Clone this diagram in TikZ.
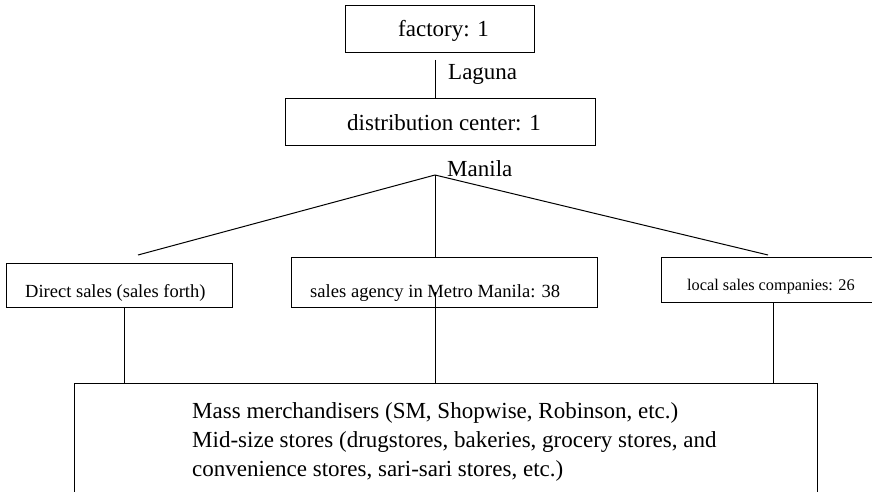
\documentclass[tikz,border=0pt]{standalone}
\usepackage{fontspec}
\setmainfont{Liberation Serif}
\begin{document}
\begin{tikzpicture}[x=1pt,y=-1pt,
  box/.style={draw,line width=1pt,inner sep=0pt,anchor=north west},
  txt/.style={inner sep=0pt,anchor=base west},
  big/.style={txt,font=\fontsize{23}{28}\selectfont},
  link/.style={line width=1pt}]
\clip (0,0) rectangle (872,492);

% boxes
\node[box,minimum width=189pt,minimum height=47pt] (factory) at (345,5) {};
\node[box,minimum width=310pt,minimum height=47pt] (dist) at (285,98) {};
\node[box,minimum width=226pt,minimum height=44pt] (direct) at (6,263) {};
\node[box,minimum width=306pt,minimum height=50pt] (agency) at (291,257) {};
\node[box,minimum width=220pt,minimum height=45pt] (local) at (661,257) {};
\node[box,minimum width=743pt,minimum height=140pt] (mass) at (74,383) {};

% texts
\node[big] (tfactory) at (398,37) {factory: 1};
\node[big] (tlaguna) at (448,80) {Laguna};
\node[big] (tdist) at (347,130) {distribution center: 1};
\node[big] (tmanila) at (447,176) {Manila};
\node[txt,font=\fontsize{18.5}{22}\selectfont] (tdirect) at (25,297) {Direct sales (sales forth)};
\node[txt,font=\fontsize{18.6}{22}\selectfont] (tagency) at (310,297) {sales agency in Metro Manila: 38};
\node[txt,font=\fontsize{16.3}{20}\selectfont] (tlocal) at (687,290) {local sales companies: 26};
\node[big] (tmass1) at (192,418) {Mass merchandisers (SM, Shopwise, Robinson, etc.)};
\node[big] (tmass2) at (192,447) {Mid-size stores (drugstores, bakeries, grocery stores, and};
\node[big] (tmass3) at (192,476) {convenience stores, sari-sari stores, etc.)};

% connector anchor points
\coordinate (lagtop) at (435,60);
\coordinate (apex) at (435,175);
\coordinate (fanl) at (138,255);
\coordinate (fanr) at (768,255);
\coordinate (xl) at (124,0);
\coordinate (midin) at (435,292);
\coordinate (xr) at (773,0);

% connectors
\draw[link] (lagtop) -- (dist.north -| lagtop);
\draw[link] (apex) -- (fanl);
\draw[link] (apex) -- (agency.north -| apex);
\draw[link] (apex) -- (fanr);
\draw[link] (direct.south -| xl) -- (mass.north -| xl);
\draw[link] (midin) -- (mass.north -| midin);
\draw[link] (local.south -| xr) -- (mass.north -| xr);
\end{tikzpicture}
\end{document}
